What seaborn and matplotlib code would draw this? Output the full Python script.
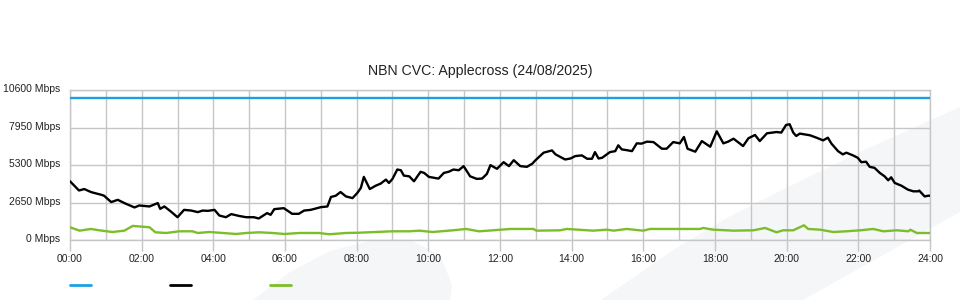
import matplotlib
matplotlib.use("Agg")
import matplotlib.pyplot as plt
import matplotlib.transforms as mtransforms
import seaborn as sns
import pandas as pd
from matplotlib.patches import Polygon
from matplotlib.lines import Line2D

# ---------------- data ----------------
title = "NBN CVC: Applecross (24/08/2025)"
y_ticks = [0, 2650, 5300, 7950, 10600]
x_tick_labels = ["00:00", "02:00", "04:00", "06:00", "08:00", "10:00", "12:00",
                 "14:00", "16:00", "18:00", "20:00", "22:00", "24:00"]

capacity_times = ["00:00", "24:00"]
capacity_values = [10000, 10000]

down_times = [
    "00:00", "00:15", "00:24", "00:35", "00:41", "00:52", "00:57", "01:09", "01:20", "01:31",
    "01:48", "01:56", "02:13", "02:27", "02:31", "02:38", "02:49", "03:00", "03:11", "03:23",
    "03:34", "03:42", "03:51", "04:02", "04:10", "04:21", "04:30", "04:43", "04:55", "05:08",
    "05:16", "05:30", "05:36", "05:42", "05:58", "06:12", "06:23", "06:32", "06:43", "07:00",
    "07:11", "07:17", "07:25", "07:33", "07:42", "07:53", "08:01", "08:07", "08:12", "08:22",
    "08:32", "08:40", "08:49", "08:54", "09:00", "09:08", "09:14", "09:19", "09:28", "09:36",
    "09:47", "09:53", "10:01", "10:17", "10:26", "10:34", "10:42", "10:51", "10:59", "11:10",
    "11:21", "11:30", "11:38", "11:44", "11:55", "12:06", "12:15", "12:23", "12:34", "12:45",
    "12:54", "12:59", "13:13", "13:27", "13:33", "13:49", "13:58", "14:06", "14:17", "14:26",
    "14:34", "14:39", "14:45", "14:51", "15:04", "15:13", "15:18", "15:24", "15:32", "15:41",
    "15:49", "15:57", "16:06", "16:17", "16:31", "16:39", "16:50", "17:01", "17:08", "17:14",
    "17:27", "17:38", "17:52", "18:03", "18:14", "18:22", "18:31", "18:47", "18:56", "19:07",
    "19:15", "19:27", "19:43", "19:51", "19:59", "20:05", "20:11", "20:16", "20:22", "20:39",
    "20:50", "21:01", "21:09", "21:15", "21:26", "21:34", "21:40", "21:51", "21:59", "22:05",
    "22:13", "22:19", "22:27", "22:36", "22:44", "22:50", "22:55", "23:01", "23:12", "23:23",
    "23:32", "23:40", "23:42", "23:51", "23:57", "24:00"]
down_values = [
    4150, 3500, 3600, 3390, 3320, 3200, 3130, 2680, 2840, 2610,
    2300, 2440, 2370, 2610, 2200, 2370, 2010, 1610, 2130, 2080,
    1970, 2080, 2060, 2130, 1730, 1610, 1830, 1700, 1610, 1610,
    1520, 1900, 1780, 2180, 2250, 1850, 1850, 2080, 2130, 2320,
    2370, 3040, 3130, 3390, 3080, 2960, 3320, 3680, 4460, 3600,
    3840, 3980, 4270, 4030, 4320, 4980, 4930, 4550, 4500, 4150,
    4820, 4740, 4460, 4340, 4740, 4820, 4980, 4930, 5220, 4500,
    4320, 4340, 4670, 5290, 5030, 5500, 5220, 5640, 5220, 5170,
    5390, 5620, 6170, 6330, 6050, 5690, 5760, 5930, 5980, 5740,
    5740, 6210, 5760, 5810, 6210, 6280, 6690, 6400, 6350, 6280,
    6830, 6810, 6950, 6920, 6450, 6450, 6920, 6830, 7280, 6450,
    6240, 6990, 6590, 7680, 6830, 6950, 7160, 6640, 7190, 7420,
    6990, 7540, 7630, 7590, 8130, 8180, 7590, 7350, 7520, 7400,
    7230, 7040, 7230, 6810, 6280, 6050, 6170, 5980, 5810, 5500,
    5530, 5170, 5100, 4740, 4500, 4220, 4430, 4030, 3840, 3560,
    3440, 3440, 3490, 3080, 3130, 3130]

up_times = [
    "00:00", "00:16", "00:35", "00:49", "01:11", "01:31", "01:45", "02:13", "02:23", "02:41",
    "03:03", "03:25", "03:34", "03:53", "04:16", "04:38", "04:55", "05:17", "05:39", "05:59",
    "06:24", "06:57", "07:14", "07:42", "08:04", "08:32", "09:00", "09:28", "09:45", "10:07",
    "10:41", "11:03", "11:25", "11:48", "12:17", "12:56", "13:01", "13:40", "13:52", "14:36",
    "14:59", "15:10", "15:32", "16:00", "16:11", "17:35", "17:40", "17:57", "18:31", "19:04",
    "19:24", "19:43", "19:54", "20:11", "20:29", "20:36", "20:56", "21:18", "21:40", "22:03",
    "22:25", "22:42", "23:04", "23:24", "23:27", "23:38", "24:00"]
up_values = [
    900, 660, 780, 685, 565, 660, 995, 900, 545, 495,
    615, 615, 495, 565, 495, 425, 495, 545, 495, 425,
    495, 495, 405, 495, 515, 565, 615, 615, 660, 565,
    685, 780, 615, 685, 780, 780, 660, 685, 780, 660,
    730, 660, 780, 660, 780, 780, 850, 730, 660, 685,
    850, 545, 685, 685, 1040, 780, 730, 565, 615, 685,
    780, 615, 685, 615, 730, 495, 495]


def to_hours(ts):
    return [int(t[:2]) + int(t[3:]) / 60 for t in ts]


cap_df = pd.DataFrame({"h": to_hours(capacity_times), "v": capacity_values})
down_df = pd.DataFrame({"h": to_hours(down_times), "v": down_values})
up_df = pd.DataFrame({"h": to_hours(up_times), "v": up_values})

# ---------------- style ----------------
sns.set_style("white")
plt.rcParams["font.family"] = ["Liberation Sans", "DejaVu Sans"]

BLUE = "#1ca0e3"
BLACK = "#000000"
GREEN = "#7cbd2a"
GRID = "#c6c6c6"
WATER = "#f5f6f8"

W, H = 960, 300
fig = plt.figure(figsize=(9.6, 3.0), dpi=100)
fig.patch.set_facecolor("white")


def px(x, y):
    return (x / W, 1 - y / H)


# faint watermark shapes behind the plot
band = [(601, 300), (640, 273), (673, 250), (725, 219), (778, 192), (860, 152),
        (931, 120), (960, 107), (960, 212), (910, 240), (803, 300)]
fig.patches.append(Polygon([px(*p) for p in band], closed=True, transform=fig.transFigure,
                           facecolor=WATER, edgecolor="none", zorder=0))
blob = [(253, 300), (290, 272), (330, 251), (370, 241), (410, 240), (440, 255),
        (452, 285), (450, 300)]
fig.patches.append(Polygon([px(*p) for p in blob], closed=True, transform=fig.transFigure,
                           facecolor=WATER, edgecolor="none", zorder=0))

ax = fig.add_axes([70 / W, 1 - 240 / H, 860 / W, 150 / H])
ax.set_facecolor("none")
ax.set_zorder(1)

sns.lineplot(data=cap_df, x="h", y="v", ax=ax, color=BLUE, linewidth=1.7, zorder=3)
sns.lineplot(data=up_df, x="h", y="v", ax=ax, color=GREEN, linewidth=1.7, zorder=3)
sns.lineplot(data=down_df, x="h", y="v", ax=ax, color=BLACK, linewidth=1.7, zorder=4)

ax.set_xlim(0, 24)
ax.set_ylim(0, 10600)
ax.set_xlabel("")
ax.set_ylabel("")

ax.set_xticks(range(0, 25, 2))
ax.set_xticklabels(x_tick_labels)
ax.set_xticks(range(0, 25), minor=True)
ax.set_yticks(y_ticks)
ax.set_yticklabels([f"{v} Mbps" for v in y_ticks])

ax.tick_params(axis="x", which="major", length=8, width=1, color=GRID, pad=2,
               labelsize=7.5, labelcolor="#222222", direction="out", bottom=True)
ax.tick_params(axis="x", which="minor", length=0)
ax.tick_params(axis="y", length=0, pad=7, labelsize=7.5, labelcolor="#222222")

# lift y labels slightly, as in the reference
shift = mtransforms.ScaledTranslation(0, 2 / 100, fig.dpi_scale_trans)
for lab in ax.get_yticklabels():
    lab.set_transform(lab.get_transform() + shift)

ax.grid(True, which="both", axis="x", color=GRID, linewidth=1)
ax.grid(True, which="major", axis="y", color=GRID, linewidth=1)
ax.set_axisbelow(True)
for s in ax.spines.values():
    s.set_color(GRID)
    s.set_linewidth(1)

fig.text(0.5, 1 - 71 / H, title, ha="center", va="center", fontsize=10.2, color="#222222")

# legend swatches (labels are blank in the original)
for x0, c in [(70, BLUE), (170, BLACK), (270, GREEN)]:
    fig.add_artist(Line2D([x0 / W, (x0 + 21) / W], [1 - 285 / H] * 2,
                          transform=fig.transFigure, color=c, linewidth=2))

fig.savefig("out.png", dpi=100, facecolor="white")
